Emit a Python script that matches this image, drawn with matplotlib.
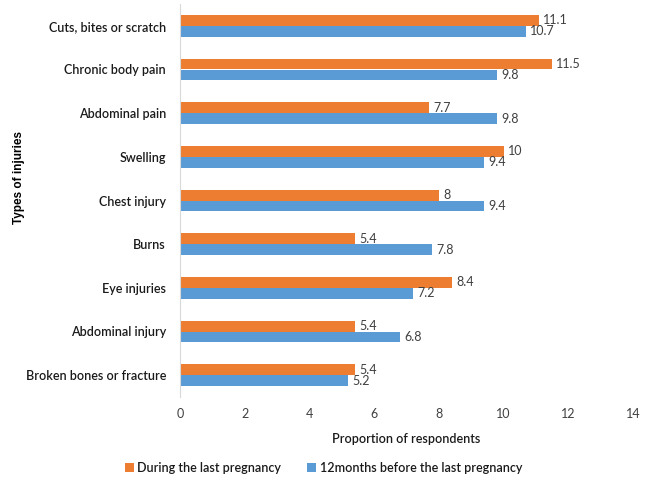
import matplotlib
matplotlib.use("Agg")
import matplotlib.pyplot as plt
import numpy as np

categories = ["Cuts, bites or scratch", "Chronic body pain", "Abdominal pain", "Swelling",
              "Chest injury", "Burns", "Eye injuries", "Abdominal injury", "Broken bones or fracture"]
during = [11.1, 11.5, 7.7, 10, 8, 5.4, 8.4, 5.4, 5.4]
before = [10.7, 9.8, 9.8, 9.4, 9.4, 7.8, 7.2, 6.8, 5.2]
xticks = [0, 2, 4, 6, 8, 10, 12, 14]

plt.rcParams['font.family'] = ['Lato', 'DejaVu Sans']
orange = '#ED7D31'
blue = '#5B9BD5'
txt = '#1a1a1a'

fig = plt.figure(figsize=(6.62, 4.91), dpi=100)
ax = fig.add_axes([180/662, 1-397/491, 453/662, 393/491])

n = len(categories)
y = np.arange(n)
h = 0.25
b1 = ax.barh(y - h/2, during, height=h, color=orange, label="During the last pregnancy")
b2 = ax.barh(y + h/2, before, height=h, color=blue, label="12months before the last pregnancy")
for bars, vals in ((b1, during), (b2, before)):
    for rect, v in zip(bars, vals):
        ax.annotate(f"{v:g}", (rect.get_width(), rect.get_y() + rect.get_height()/2),
                    xytext=(3, 0), textcoords='offset points', va='center', ha='left',
                    fontsize=9, color='#404040')

ax.set_ylim(n - 0.5, -0.5)
ax.set_xlim(0, 14)
ax.set_xticks(xticks)
ax.set_xticklabels([str(t) for t in xticks], fontsize=9, color='#404040')
ax.set_yticks(y)
ax.set_yticklabels(categories, fontsize=9, color=txt, fontweight='semibold')
ax.tick_params(axis='both', length=0)
ax.tick_params(axis='x', pad=8)
ax.tick_params(axis='y', pad=10)
for s in ['top', 'right', 'bottom']:
    ax.spines[s].set_visible(False)
ax.spines['left'].set_color('#d9d9d9')
ax.set_xlabel("Proportion of respondents", fontsize=9, color=txt, fontweight='semibold', labelpad=9)
fig.text(19/662, 1-178/491, "Types of injuries", rotation=90, ha='center', va='center',
         fontsize=8.5, fontweight='bold', color='black', family=['Liberation Sans', 'DejaVu Sans'])

leg = fig.legend(handles=[b1, b2], loc='center', bbox_to_anchor=(323.5/662, 1-468/491), ncol=2,
                 frameon=False, fontsize=9, handlelength=0.7, handleheight=0.7,
                 handletextpad=0.3, columnspacing=2.1,
                 prop={'size': 9, 'weight': 'semibold'})
for t in leg.get_texts():
    t.set_color(txt)

fig.savefig("out.png", dpi=100)
